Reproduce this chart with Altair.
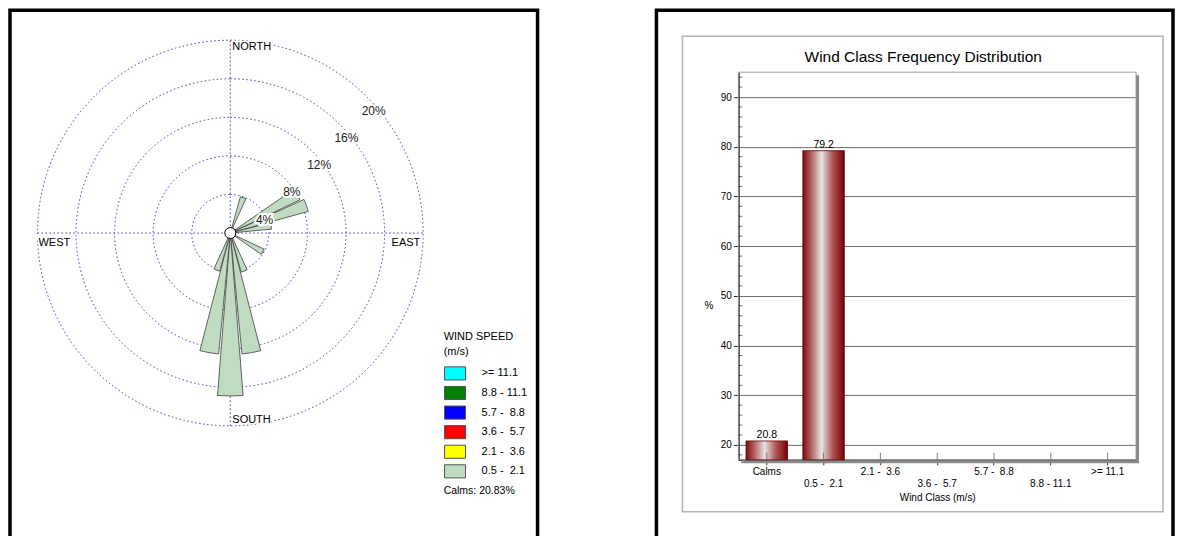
import math
import altair as alt
import pandas as pd

# ---------------- wind rose data ----------------
DIRECTIONS = [20, 60, 70, 80, 120, 160, 170, 180, 190, 200]        # degrees from north
PERCENTS = [3.9, 8.0, 8.4, 4.3, 3.9, 4.2, 12.6, 16.9, 12.6, 4.1]   # % of time
PETAL_CLASS = " 0.5 -\u00a0 2.1"
SPEED_CLASSES = [">= 11.1", " 8.8 - 11.1", " 5.7 -\u00a0 8.8", " 3.6 -\u00a0 5.7",
                 " 2.1 -\u00a0 3.6", " 0.5 -\u00a0 2.1"]
SPEED_COLORS = ["#00FFFF", "#008000", "#0000FF", "#FF0000", "#FFFF00", "#C0DCC0"]
RINGS = [4, 8, 12, 16, 20]
RING_LABELS = ["4%", "8%", "12%", "16%", "20%"]
COMPASS = ["NORTH", "EAST", "SOUTH", "WEST"]
COMPASS_ANGLES = [0, 90, 180, 270]
CALMS_TEXT = "Calms: 20.83%"

# ---------------- bar chart data ----------------
WIND_CLASSES = ["Calms", "0.5 -\u00a0 2.1", "2.1 -\u00a0 3.6", "3.6 -\u00a0 5.7",
                "5.7 -\u00a0 8.8", "8.8 - 11.1", ">= 11.1"]
FREQUENCIES = [20.8, 79.2, 0, 0, 0, 0, 0]
Y_MAJOR = [20, 30, 40, 50, 60, 70, 80, 90]
Y_MINOR = [18, 22, 24, 26, 28, 32, 34, 36, 38, 42, 44, 46, 48, 52, 54, 56, 58,
           62, 64, 66, 68, 72, 74, 76, 78, 82, 84, 86, 88, 92, 94]
BAR_TITLE = "Wind Class Frequency Distribution"

FONT = "Liberation Sans"
ONE = pd.DataFrame({"k": [0]})

# ================= left panel: wind rose =================
W1, H1 = 528, 545
CX, CY, R20 = 220.5, 223, 193
DOT = "#3a3ac4"

xs = alt.Scale(domain=[-20, 20], range=[CX - R20, CX + R20], nice=False, zero=False)
ys = alt.Scale(domain=[-20, 20], range=[CY + R20, CY - R20], nice=False, zero=False)
rs = alt.Scale(type="linear", domain=[0, 20], range=[0, R20], zero=True, nice=False)
ts = alt.Scale(domain=[0, 360], range=[0, 2 * math.pi], nice=False, zero=False)


def XD(v):
    return alt.XDatum(v, type="quantitative", scale=xs, axis=None)


def YD(v):
    return alt.YDatum(v, type="quantitative", scale=ys, axis=None)


rings = alt.Chart(pd.DataFrame({"r": RINGS})).mark_arc(
    theta=0, theta2=2 * math.pi, filled=False, stroke=DOT, strokeWidth=1,
    strokeDash=[1.5, 2.5]
).encode(x=XD(0), y=YD(0), radius=alt.Radius("r:Q", scale=rs, stack=None))

vline = alt.Chart(ONE).mark_rule(stroke=DOT, strokeWidth=1, strokeDash=[1.5, 2.5]).encode(
    x=XD(0), y=YD(-20), y2=alt.Y2Datum(20))
hline = alt.Chart(ONE).mark_rule(stroke=DOT, strokeWidth=1, strokeDash=[1.5, 2.5]).encode(
    y=YD(0), x=XD(-20), x2=alt.X2Datum(20))

petal_df = pd.DataFrame({"dir": DIRECTIONS, "pct": PERCENTS,
                         "cls": [PETAL_CLASS] * len(DIRECTIONS)})
legend = alt.Legend(
    title=["WIND SPEED", "(m/s)"], orient="none", legendX=434, legendY=321,
    symbolType="M-1,-1H2.2V1H-1Z", symbolSize=172, symbolStrokeColor="#505050",
    symbolStrokeWidth=1, symbolOpacity=1, labelOffset=23, rowPadding=0.6,
    titlePadding=9, titleFontWeight="normal", titleFontSize=11, titleLineHeight=15,
    labelFontSize=11, padding=0, titleColor="black", labelColor="black")
petals = alt.Chart(petal_df).transform_calculate(
    t0="datum.dir - 4.5", t1="datum.dir + 4.5"
).mark_arc(stroke="#404040", strokeWidth=0.8, opacity=1).encode(
    x=XD(0), y=YD(0),
    theta=alt.Theta("t0:Q", scale=ts, stack=None),
    theta2="t1:Q",
    radius=alt.Radius("pct:Q", scale=rs, stack=None),
    radius2=alt.value(5),
    color=alt.Color("cls:N", scale=alt.Scale(domain=SPEED_CLASSES, range=SPEED_COLORS),
                    legend=legend),
)

centre = alt.Chart(ONE).mark_arc(theta=0, theta2=2 * math.pi, radius=5.5, fill="white",
                                 stroke="black", strokeWidth=1).encode(x=XD(0), y=YD(0))

# ring labels: placed on each ring at 45 degrees, computed from the ring value
ring_df = pd.DataFrame({"r": RINGS, "lab": RING_LABELS})
ring_base = alt.Chart(ring_df).transform_calculate(
    px="datum.r * sin(PI / 4)", py="datum.r * cos(PI / 4)")
ring_enc = dict(x=alt.X("px:Q", scale=xs, axis=None), y=alt.Y("py:Q", scale=ys, axis=None),
                text="lab:N")
ring_halo = ring_base.mark_text(fontSize=12, dx=7, dy=14, color="white", stroke="white",
                                strokeWidth=4).encode(**ring_enc)
ring_text = ring_base.mark_text(fontSize=12, dx=7, dy=14, color="#202020").encode(**ring_enc)


def compass(i, r, align, dx, dy):
    base = alt.Chart(pd.DataFrame({"lab": [COMPASS[i]], "ang": [COMPASS_ANGLES[i]]})
                     ).transform_calculate(
        px=f"{r} * sin(datum.ang * PI / 180)", py=f"{r} * cos(datum.ang * PI / 180)")
    enc = dict(x=alt.X("px:Q", scale=xs, axis=None), y=alt.Y("py:Q", scale=ys, axis=None),
               text="lab:N")
    halo = base.mark_text(fontSize=11, align=align, dx=dx, dy=dy, color="white",
                          stroke="white", strokeWidth=3).encode(**enc)
    txt = base.mark_text(fontSize=11, align=align, dx=dx, dy=dy, color="black").encode(**enc)
    return [halo, txt]


compass_layers = (compass(0, 19.3, "left", 2, 0) + compass(1, 19.7, "right", 0, 10)
                  + compass(2, 19.4, "left", 2, 0) + compass(3, 19.9, "left", 0, 10))

calms = alt.Chart(ONE).mark_text(text=CALMS_TEXT, align="left", fontSize=10.5,
                                 color="black").encode(x=alt.value(434), y=alt.value(481))

left = alt.layer(rings, vline, hline, petals, centre, ring_halo, ring_text,
                 *compass_layers, calms).properties(width=W1, height=H1)

# ================= right panel: bar chart =================
W2, H2 = 517, 545
PX0, PX1, PY0, PY1 = 82, 480, 62, 450

bar_df = pd.DataFrame({"cls": WIND_CLASSES, "freq": FREQUENCIES})
minor_df = pd.DataFrame({"v": Y_MINOR})

xscale = alt.Scale(domain=WIND_CLASSES, range=[PX0, PX1], paddingInner=0.27,
                   paddingOuter=0.135)
yscale = alt.Scale(domain=[17, 95], range=[PY1, PY0], nice=False, zero=False, clamp=True)

xaxis = alt.Axis(
    offset=-(H2 - PY1), labelAngle=0, tickSize=5, tickColor="#303030",
    domainColor="black", domainWidth=1.5, labelFontSize=10, labelColor="black",
    labelPadding=2, labelLineHeight=12,
    labelExpr="round(datum.index * 6) % 2 == 1 ? ['', datum.label] : datum.label",
    title="Wind Class (m/s)", titleFontSize=10, titleFontWeight="normal",
    titleColor="black", titlePadding=4, grid=False)
yaxis = alt.Axis(
    offset=-PX0, values=Y_MAJOR, tickSize=5, tickColor="#303030", domainColor="black",
    domainWidth=1.5, labelFontSize=10, labelColor="black", labelPadding=2,
    grid=True, gridColor="#6e6e6e", gridWidth=1,
    title="%", titleAngle=0, titleX=-30, titleY=296, titleAlign="center",
    titleBaseline="middle", titleFontSize=10, titleFontWeight="normal", titleColor="black")

X = alt.X("cls:N", scale=xscale, axis=xaxis)

gray_box = alt.Chart(ONE).mark_rect(fillOpacity=0, stroke="#b4b4b4", strokeWidth=1.5).encode(
    x=alt.value(26), x2=alt.value(507), y=alt.value(26), y2=alt.value(502))
plot_box = alt.Chart(ONE).mark_rect(fillOpacity=0, stroke="#a0a0a0", strokeWidth=1).encode(
    x=alt.value(PX0), x2=alt.value(PX1), y=alt.value(PY0), y2=alt.value(PY1))
shadow_r = alt.Chart(ONE).mark_rule(stroke="#8a8a8a", strokeWidth=3).encode(
    x=alt.value(PX1 + 1.5), y=alt.value(PY0 + 3), y2=alt.value(PY1 + 3))
shadow_b = alt.Chart(ONE).mark_rule(stroke="#8a8a8a", strokeWidth=3).encode(
    y=alt.value(PY1 + 1.8), x=alt.value(PX0 + 3), x2=alt.value(PX1 + 3))

minor_ticks = alt.Chart(minor_df).mark_tick(orient="horizontal", size=4, thickness=1,
                                            color="#303030").encode(
    y=alt.Y("v:Q", scale=yscale, axis=yaxis), x=alt.value(PX0 + 2))

gradient = alt.Gradient(
    gradient="linear", x1=0, x2=1, y1=0, y2=0,
    stops=[alt.GradientStop(color="#7a0c0c", offset=0),
           alt.GradientStop(color="#b86a6a", offset=0.22),
           alt.GradientStop(color="#e6e2e2", offset=0.45),
           alt.GradientStop(color="#b05555", offset=0.72),
           alt.GradientStop(color="#780000", offset=1)])

bars = alt.Chart(bar_df).transform_filter("datum.freq > 0").mark_bar(
    fill=gradient, stroke="#5a0000", strokeWidth=0.8
).encode(x=X, y=alt.Y("freq:Q", scale=yscale, axis=yaxis), y2=alt.Y2Datum(17))

# inner half of the category ticks (they cross the axis line in the original)
inner_ticks = alt.Chart(bar_df).mark_tick(orient="vertical", size=7, thickness=1,
                                          color="#606060", opacity=0.8).encode(
    x=X, y=alt.value(PY1 - 3.5))

bar_text = alt.Chart(bar_df).transform_filter("datum.freq > 0").mark_text(
    baseline="bottom", dy=-1, fontSize=10.5, color="black"
).encode(x=X, y=alt.Y("freq:Q", scale=yscale, axis=yaxis),
         text=alt.Text("freq:Q", format=".1f"))

title = alt.Chart(ONE).mark_text(text=BAR_TITLE, fontSize=15.5, color="black").encode(
    x=alt.value(267), y=alt.value(47))

right = alt.layer(gray_box, plot_box, shadow_r, shadow_b, minor_ticks, bars, inner_ticks,
                  bar_text, title).properties(width=W2, height=H2)

chart = alt.hconcat(left, right, spacing=115, padding=0).configure(font=FONT).configure_view(
    stroke="black", strokeWidth=3.5)

chart.save("out.html", embed_options={"renderer": "svg", "actions": False})
